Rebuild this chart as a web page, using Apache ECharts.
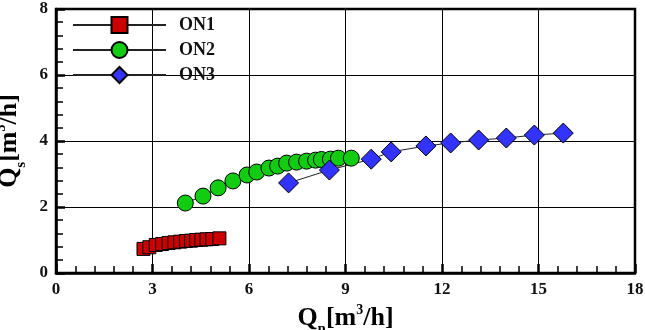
<!DOCTYPE html>
<html>
<head>
<meta charset="utf-8">
<script src="https://cdn.jsdelivr.net/npm/echarts@6/dist/echarts.min.js"></script>
<style>
  html, body { margin: 0; padding: 0; background: #fff; }
  #chart { width: 645px; height: 330px; }
</style>
</head>
<body>
<div id="chart"></div>
<script>
// Qn [m3/h] vs Qs [m3/h]
const on1X = [2.72, 2.9, 3.1, 3.3, 3.5, 3.68, 3.86, 4.04, 4.2, 4.36, 4.52, 4.68, 4.86, 5.08];
const on1Y = [0.73, 0.78, 0.85, 0.88, 0.91, 0.93, 0.95, 0.97, 0.98, 1.0, 1.01, 1.02, 1.03, 1.05];

const on2X = [4.02, 4.57, 5.04, 5.5, 5.94, 6.24, 6.62, 6.89, 7.17, 7.48, 7.79, 8.07, 8.25, 8.53, 8.78, 9.18];
const on2Y = [2.12, 2.33, 2.58, 2.79, 2.97, 3.06, 3.18, 3.24, 3.33, 3.36, 3.39, 3.42, 3.44, 3.45, 3.48, 3.48];

const on3X = [7.23, 8.5, 9.8, 10.42, 11.5, 12.27, 13.14, 14.0, 14.87, 15.77];
const on3Y = [2.73, 3.12, 3.45, 3.67, 3.85, 3.94, 4.03, 4.09, 4.18, 4.24];

const xTicks = [0, 3, 6, 9, 12, 15, 18];
const yTicks = [0, 2, 4, 6, 8];

function pairs(xs, ys) {
	return xs.map((x, i) => [x, ys[i]]);
}

const serif = '"Liberation Serif", "Times New Roman", serif';

let myChart = echarts.init(document.getElementById('chart'), null, { renderer: 'canvas' });

function mkSeries(name, xs, ys, symbol, size, color) {
	return {
		name: name,
		type: 'line',
		data: pairs(xs, ys),
		symbol: symbol,
		symbolSize: size,
		showAllSymbol: true,
		lineStyle: { color: '#222', width: 1 },
		itemStyle: { color: color, borderColor: '#000', borderWidth: 1 },
		z: 3
	};
}

const nameRich = {
	a: { fontFamily: serif, fontWeight: 'bold', fontSize: 26, color: '#000', lineHeight: 28, verticalAlign: 'bottom' },
	sub: { fontFamily: serif, fontWeight: 'bold', fontSize: 15, color: '#000', verticalAlign: 'bottom', padding: [0, 0, -6, 0] },
	sup: { fontFamily: serif, fontWeight: 'bold', fontSize: 14, color: '#000', verticalAlign: 'top', padding: [0, 0, 14, 0] }
};

function mkAxis(ticks, step, name, gap) {
	return {
		type: 'value', min: ticks[0], max: ticks[ticks.length - 1], interval: step,
		name: name,
		nameLocation: 'middle', nameGap: gap,
		nameTextStyle: { rich: nameRich },
		axisLine: { show: true, lineStyle: { color: '#000', width: 2.5 } },
		axisTick: { show: true, inside: true, length: 9, lineStyle: { color: '#000', width: 2.5 } },
		minorTick: { show: true, splitNumber: 5, length: 7, lineStyle: { color: '#000', width: 1.5 } },
		splitLine: { show: true, lineStyle: { color: '#000', width: 1 } },
		axisLabel: { fontFamily: serif, fontWeight: 'bold', fontSize: 17, color: '#111', margin: 8 }
	};
}

let option = {
	animation: false,
	backgroundColor: '#fff',
	grid: {
		left: 56, right: 10, top: 9, bottom: 57,
		outerBoundsMode: 'none',
		containLabel: false,
		show: true, borderColor: '#000', borderWidth: 2.5,
		backgroundColor: 'transparent'
	},
	legend: {
		left: 67, top: 10,
		orient: 'vertical',
		itemWidth: 93, itemHeight: 20,
		itemGap: 5,
		data: ['ON1', 'ON2', 'ON3'],
		textStyle: { fontFamily: serif, fontWeight: 'bold', fontSize: 18, lineHeight: 20, color: '#111', padding: [0, 0, 0, 8] }
	},
	xAxis: mkAxis(xTicks, 3, '{a|Q}{sub|n}{a|[m}{sup|3}{a|/h]}', 14),
	yAxis: mkAxis(yTicks, 2, '{a|Q}{sub|s}{a|[m}{sup|3}{a|/h]}', 10),
	series: [
		mkSeries('ON1', on1X, on1Y, 'rect', 13, '#cc0000'),
		mkSeries('ON2', on2X, on2Y, 'circle', 16, '#11cc11'),
		mkSeries('ON3', on3X, on3Y, 'diamond', 20, '#3333ff')
	]
};
myChart.setOption(option);
</script>
</body>
</html>
